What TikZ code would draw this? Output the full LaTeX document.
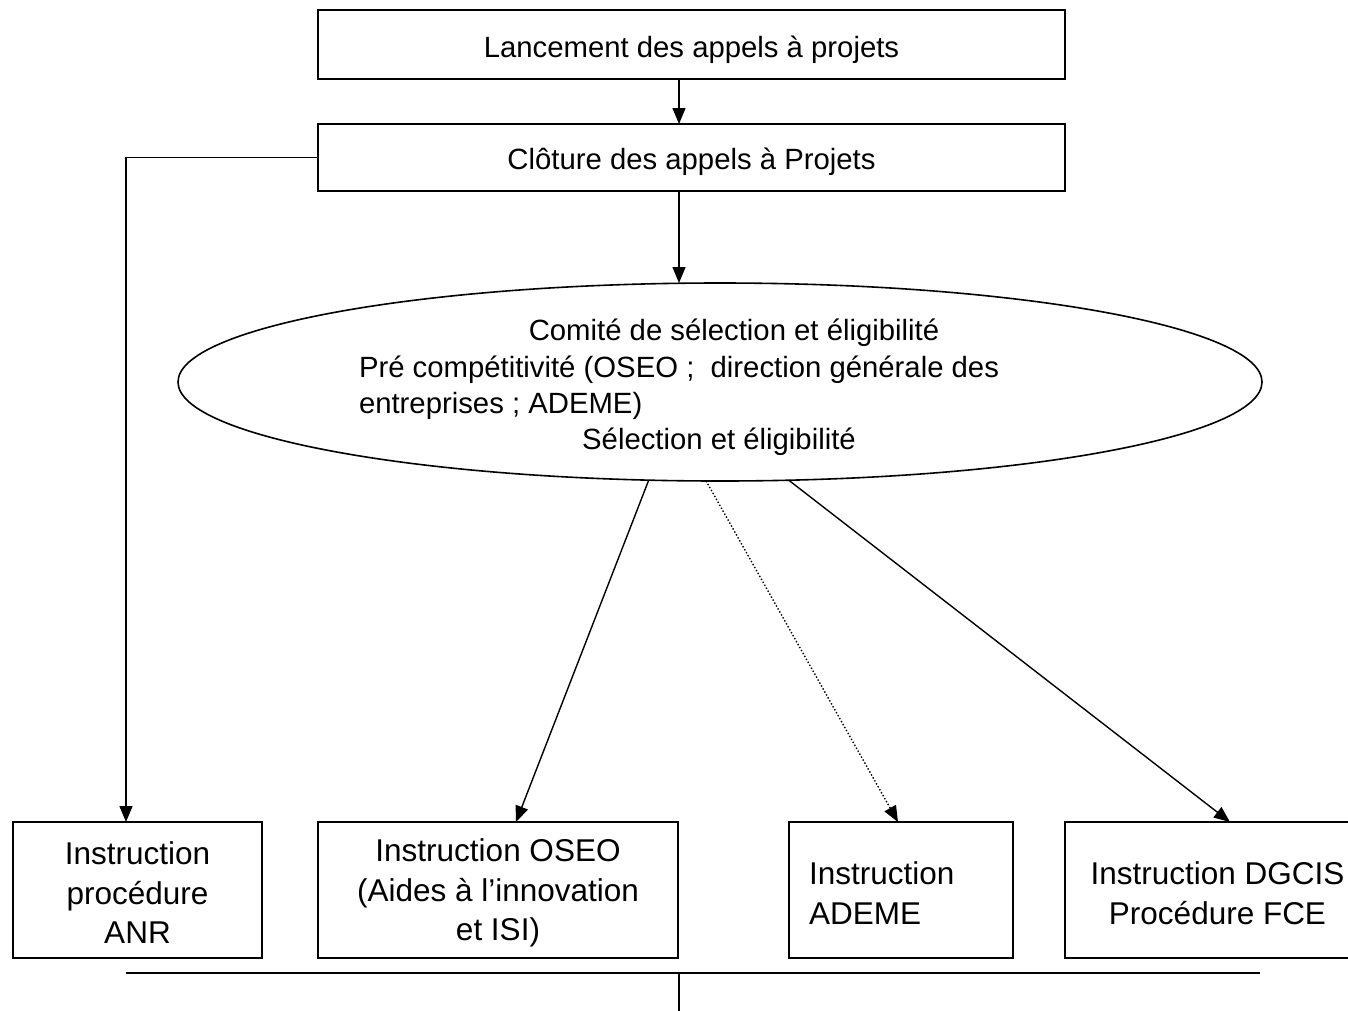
\documentclass[tikz,border=0pt]{standalone}
\usepackage{fontspec}
\setmainfont{Liberation Sans}
\usetikzlibrary{shapes.geometric,arrows.meta,calc}
\begin{document}
\begin{tikzpicture}[x=1pt,y=-1pt,
  every node/.style={inner sep=0pt,outer sep=0pt},
  boxstyle/.style={draw,line width=1.6pt,rectangle},
  topfont/.style={font=\fontsize{29.3pt}{36pt}\selectfont},
  botfont/.style={font=\fontsize{31.5pt}{39.5pt}\selectfont},
  arr/.style={line width=1.4pt,-{Triangle[length=16pt,width=13pt]}},
  plain/.style={line width=1.4pt}]
\useasboundingbox (0,0) rectangle (1348,1010);
% top boxes
\node[boxstyle,minimum width=747,minimum height=69] (b1) at (691.5,44.5) {};
\node[topfont] (b1t) at ($(b1.center)+(0,5)$) {Lancement des appels à projets};
\node[boxstyle,minimum width=747,minimum height=67] (b2) at (691.5,157.5) {};
\node[topfont] (b2t) at ($(b2.center)+(0,4)$) {Clôture des appels à Projets};
% ellipse
\node[draw,ellipse,line width=1.6pt,minimum width=1084,minimum height=198] (ell) at (720,382) {};
\node[topfont] (t1) at (734,333) {Comité de sélection et éligibilité};
\node[topfont,anchor=west] (t2) at (359,370) {Pré compétitivité (OSEO ;\ \ direction générale des};
\node[topfont,anchor=west] (t3) at (359,406) {entreprises ; ADEME)};
\node[topfont] (t4) at (719,442) {Sélection et éligibilité};
% bottom boxes
\node[boxstyle,minimum width=249,minimum height=136] (anr) at (137.5,890) {};
\node[botfont,align=center] (anrt) at ($(anr.center)+(0,3)$) {Instruction\\procédure\\ANR};
\node[boxstyle,minimum width=360,minimum height=136] (oseo) at (498,890) {};
\node[botfont,align=center] (oseot) at ($(oseo.center)+(0,3)$) {Instruction OSEO\\(Aides à l’innovation\\et ISI)};
\node[boxstyle,minimum width=224,minimum height=136] (ademe) at (901,890) {};
\node[botfont,align=left,anchor=west] (ademet) at ($(ademe.west)+(20,3)$) {Instruction\\ADEME};
\node[boxstyle,minimum width=305,minimum height=136] (dgcis) at (1217.5,890) {};
\node[botfont,align=center] (dgcist) at ($(dgcis.center)+(0,3)$) {Instruction DGCIS\\Procédure FCE};
% connectors
\draw[arr] ($(b1.south)+(-12.5,0)$) -- ($(b2.north)+(-12.5,0)$);
\draw[arr] ($(b2.south)+(-12.5,0)$) -- ($(ell.north)+(-41,0)$);
\draw[arr] (b2.west) -| ($(anr.north)+(-11.5,0)$);
\draw[arr] (ell.234.8) -- ($(oseo.north)+(18,0)$);
\draw[arr,dotted] (ell.262.6) -- ($(ademe.north)+(-3,0)$);
\draw[arr] (ell.305.5) -- ($(dgcis.north)+(12.5,0)$);
% bottom line
\coordinate (bl) at (126,973);
\coordinate (br) at (1260,973);
\coordinate (tk) at (679,973);
\coordinate (tkb) at (679,1012);
\draw[plain] (bl) -- (br);
\draw[plain] (tk) -- (tkb);
\end{tikzpicture}
\end{document}
